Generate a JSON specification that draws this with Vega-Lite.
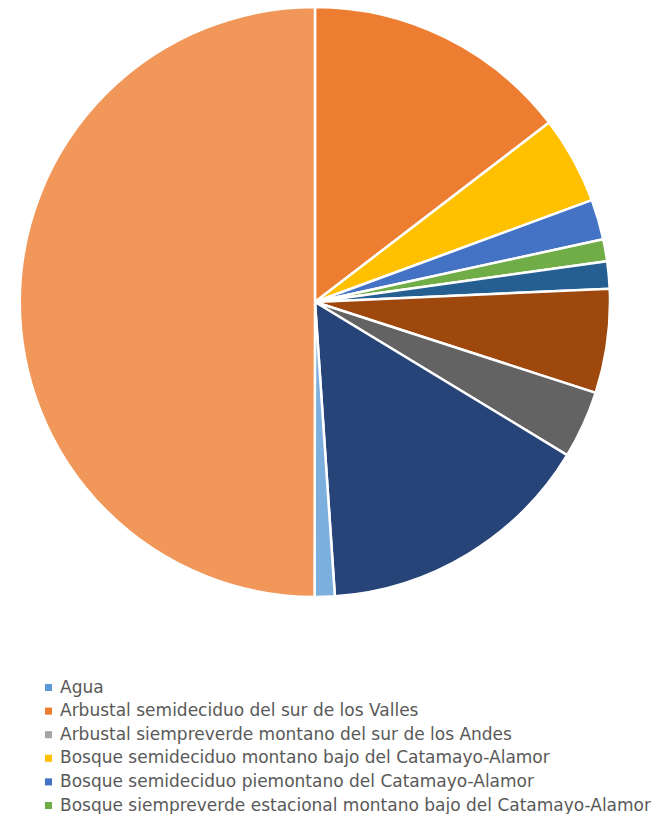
{
  "$schema": "https://vega.github.io/schema/vega-lite/v6.json",
  "width": 630,
  "height": 604,
  "padding": 0,
  "autosize": {"type": "pad"},
  "background": "white",
  "config": {"view": {"stroke": null}},
  "data": {
    "values": [
      {"categoria": "Arbustal semideciduo del sur de los Valles", "valor": 14.6, "orden": 2},
      {"categoria": "Bosque semideciduo montano bajo del Catamayo-Alamor", "valor": 4.8, "orden": 4},
      {"categoria": "Bosque semideciduo piemontano del Catamayo-Alamor", "valor": 2.2, "orden": 5},
      {"categoria": "Bosque siempreverde estacional montano bajo del Catamayo-Alamor", "valor": 1.2, "orden": 6},
      {"categoria": "Categoría 7", "valor": 1.5, "orden": 7},
      {"categoria": "Categoría 8", "valor": 5.7, "orden": 8},
      {"categoria": "Categoría 9", "valor": 3.7, "orden": 9},
      {"categoria": "Categoría 11", "valor": 15.25, "orden": 11},
      {"categoria": "Categoría 13", "valor": 1.1, "orden": 13},
      {"categoria": "Categoría 14", "valor": 50.0, "orden": 14}
    ]
  },
  "mark": {"type": "arc", "radius": 295, "stroke": "white", "strokeWidth": 2.5},
  "encoding": {
    "theta": {"field": "valor", "type": "quantitative", "stack": true},
    "order": {"field": "orden", "type": "quantitative"},
    "color": {
      "field": "categoria",
      "type": "nominal",
      "scale": {
        "domain": [
          "Agua",
          "Arbustal semideciduo del sur de los Valles",
          "Arbustal siempreverde montano del sur de los Andes",
          "Bosque semideciduo montano bajo del Catamayo-Alamor",
          "Bosque semideciduo piemontano del Catamayo-Alamor",
          "Bosque siempreverde estacional montano bajo del Catamayo-Alamor",
          "Categoría 7",
          "Categoría 8",
          "Categoría 9",
          "Categoría 11",
          "Categoría 13",
          "Categoría 14"
        ],
        "range": ["#5B9BD5", "#ED7D31", "#A5A5A5", "#FFC000", "#4472C4", "#70AD47", "#255E91", "#9E480E", "#636363", "#264478", "#7CAFDD", "#F1975A"]
      },
      "legend": {
        "values": [
          "Agua",
          "Arbustal semideciduo del sur de los Valles",
          "Arbustal siempreverde montano del sur de los Andes",
          "Bosque semideciduo montano bajo del Catamayo-Alamor",
          "Bosque semideciduo piemontano del Catamayo-Alamor",
          "Bosque siempreverde estacional montano bajo del Catamayo-Alamor"
        ],
        "orient": "none",
        "legendX": 40,
        "legendY": 679,
        "title": null,
        "symbolType": "square",
        "symbolSize": 50,
        "symbolStrokeWidth": 0,
        "labelFontSize": 17,
        "labelFont": "DejaVu Sans",
        "labelColor": "#595959",
        "labelLimit": 700,
        "labelOffset": 3,
        "rowPadding": 5.6
      }
    }
  }
}
